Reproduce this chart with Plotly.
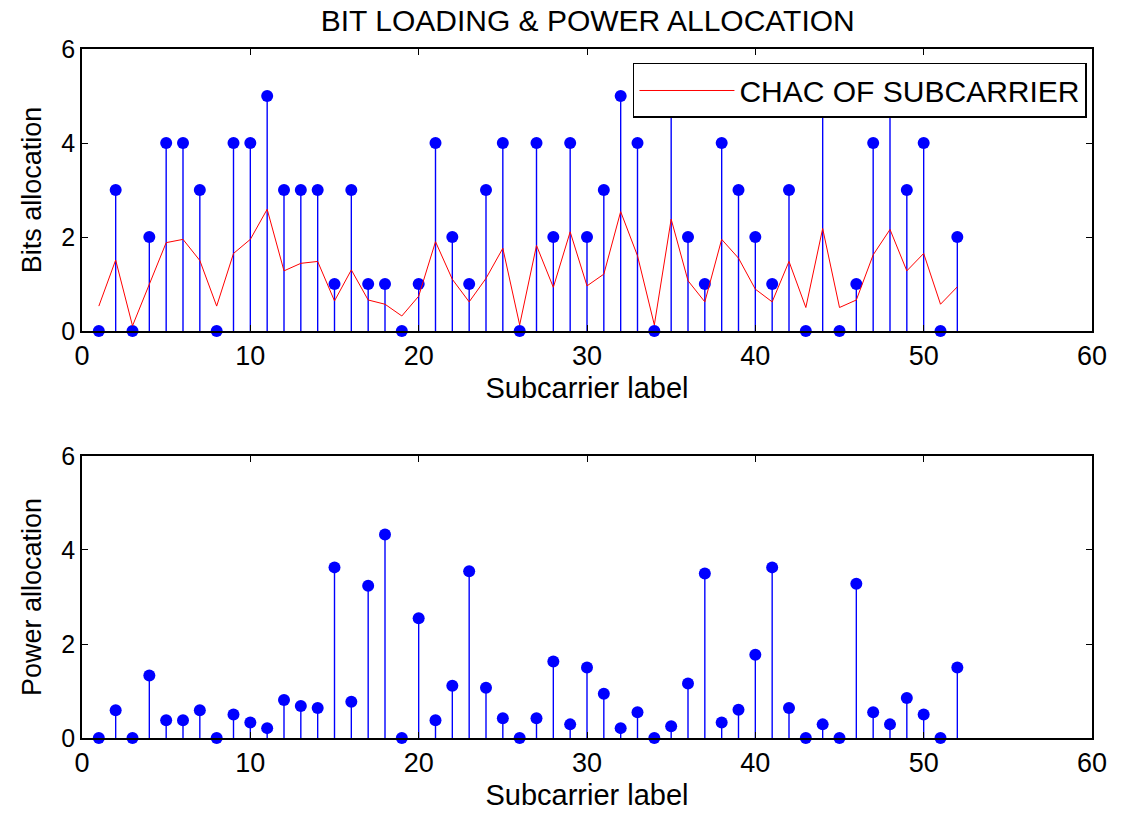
import plotly.graph_objects as go

subcarriers = list(range(1, 53))

bits = [0, 3, 0, 2, 4, 4, 3, 0, 4, 4,
        5, 3, 3, 3, 1, 3, 1, 1, 0, 1,
        4, 2, 1, 3, 4, 0, 4, 2, 4, 2,
        3, 5, 4, 0, 5, 2, 1, 4, 3, 2,
        1, 3, 0, 5, 0, 1, 4, 5, 3, 4,
        0, 2]

channel = [0.53, 1.51, 0.11, 1.01, 1.88, 1.95, 1.50, 0.53, 1.65, 1.95,
           2.59, 1.28, 1.44, 1.48, 0.64, 1.30, 0.66, 0.57, 0.32, 0.74,
           1.90, 1.10, 0.62, 1.12, 1.76, 0.13, 1.82, 0.93, 2.11, 0.96,
           1.21, 2.54, 1.60, 0.13, 2.38, 1.07, 0.62, 1.95, 1.55, 0.89,
           0.62, 1.48, 0.50, 2.18, 0.50, 0.66, 1.62, 2.16, 1.28, 1.65,
           0.57, 0.94]

power = [0.00, 0.59, 0.00, 1.33, 0.38, 0.38, 0.59, 0.00, 0.50, 0.33,
         0.21, 0.81, 0.68, 0.64, 3.63, 0.77, 3.24, 4.33, 0.00, 2.55,
         0.38, 1.11, 3.55, 1.07, 0.42, 0.00, 0.42, 1.63, 0.29, 1.50,
         0.94, 0.21, 0.55, 0.00, 0.25, 1.16, 3.50, 0.33, 0.60, 1.77,
         3.63, 0.64, 0.00, 0.29, 0.00, 3.28, 0.55, 0.29, 0.85, 0.50,
         0.00, 1.50]

x_ticks = [0, 10, 20, 30, 40, 50, 60]
y_ticks = [0, 2, 4, 6]

FONT = "Liberation Sans, Arial, sans-serif"
BLUE = "#0000ff"


def stems(x, y):
    xs, ys = [], []
    for xi, yi in zip(x, y):
        xs += [xi, xi, None]
        ys += [0, yi, None]
    return xs, ys


fig = go.Figure()

for (vals, xa, ya) in [(bits, "x", "y"), (power, "x2", "y2")]:
    sx, sy = stems(subcarriers, vals)
    fig.add_trace(go.Scatter(x=sx, y=sy, mode="lines", xaxis=xa, yaxis=ya,
                             line=dict(color=BLUE, width=1.4),
                             showlegend=False, hoverinfo="skip"))
    fig.add_trace(go.Scatter(x=subcarriers, y=vals, mode="markers", xaxis=xa, yaxis=ya,
                             marker=dict(color=BLUE, size=12, symbol="circle"),
                             cliponaxis=False, showlegend=False))

fig.add_trace(go.Scatter(x=subcarriers, y=channel, mode="lines", xaxis="x", yaxis="y",
                         line=dict(color="#ff0000", width=1),
                         name="CHAC OF SUBCARRIER", showlegend=True))

axis_common = dict(
    showline=True, linecolor="black", linewidth=1.5, mirror="allticks",
    ticks="inside", ticklen=6, tickcolor="black", showgrid=False, zeroline=False,
    automargin=False,
)
xtick_font = dict(family=FONT, size=27, color="black")
ytick_font = dict(family=FONT, size=25, color="black")
xtitle_font = dict(family=FONT, size=29, color="black")
ytitle_font = dict(family=FONT, size=27, color="black")

fig.update_layout(
    width=1126, height=814,
    paper_bgcolor="white", plot_bgcolor="white",
    margin=dict(l=82, r=34, t=49, b=76),
    font=dict(family=FONT, color="black"),
    title=dict(text="BIT LOADING & POWER ALLOCATION", x=0.522, xanchor="center",
               y=1 - 20 / 814, yanchor="middle", yref="container",
               font=dict(family=FONT, size=30, color="black")),
    xaxis=dict(domain=[0, 1], anchor="y", range=[0, 60], tickvals=x_ticks,
               tickfont=xtick_font,
               title=dict(text="Subcarrier label", font=xtitle_font, standoff=8),
               **axis_common),
    yaxis=dict(domain=[0.5907, 1], anchor="x", range=[0, 6], tickvals=y_ticks,
               tickfont=ytick_font,
               title=dict(text="Bits allocation", font=ytitle_font, standoff=12),
               **axis_common),
    xaxis2=dict(domain=[0, 1], anchor="y2", range=[0, 60], tickvals=x_ticks,
                tickfont=xtick_font,
                title=dict(text="Subcarrier label", font=xtitle_font, standoff=8),
                **axis_common),
    yaxis2=dict(domain=[0, 0.4093], anchor="x2", range=[0, 6], tickvals=y_ticks,
                tickfont=ytick_font,
                title=dict(text="Power allocation", font=ytitle_font, standoff=12),
                **axis_common),
    legend=dict(x=0.995, xanchor="right", y=0.9797, yanchor="top",
                bgcolor="white", bordercolor="black", borderwidth=1.5,
                font=dict(family=FONT, size=30, color="black"),
                itemwidth=95),
    showlegend=True,
)

fig.write_html("out.html")
